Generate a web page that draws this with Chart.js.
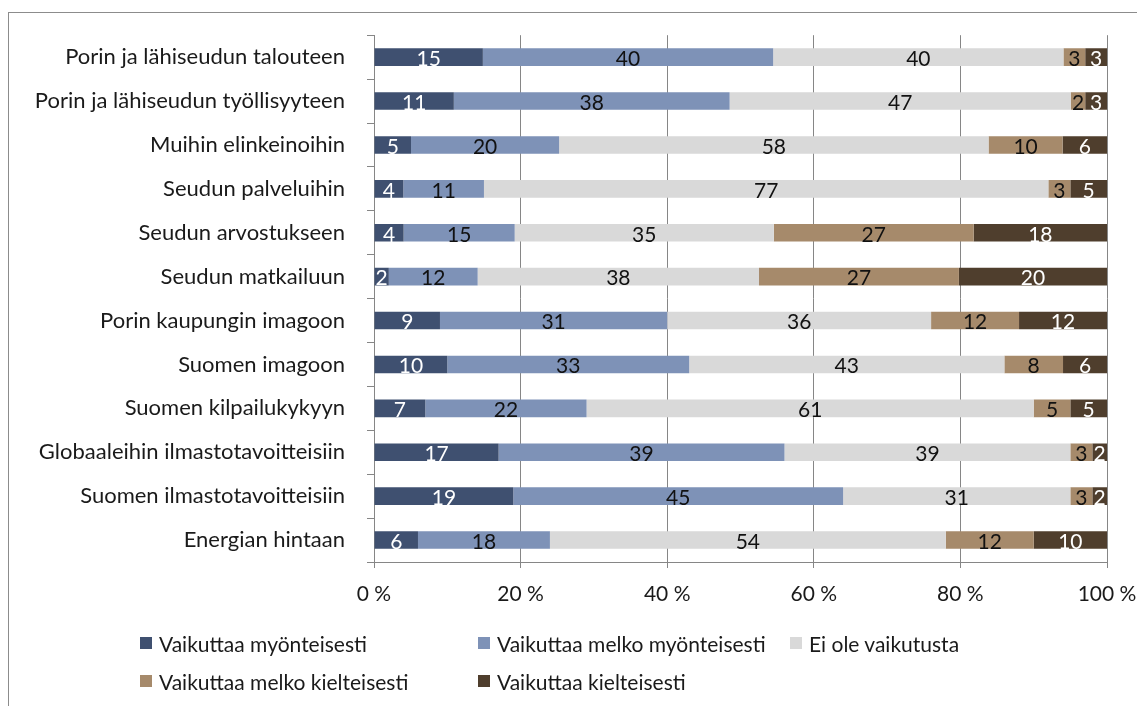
<!DOCTYPE html>
<html lang="fi">
<head>
<meta charset="utf-8">
<script src="https://cdn.jsdelivr.net/npm/chart.js@4.4.1/dist/chart.umd.min.js"></script>
<style>
  html, body { margin: 0; padding: 0; background: #fff; }
  #wrap { position: relative; width: 1137px; height: 706px; overflow: hidden; font-family: Lato, "Open Sans", sans-serif; }
  #frame { position: absolute; left: 8px; top: 12px; width: 1200px; height: 800px; border-top: 1px solid #8c8c8c; border-left: 1px solid #8c8c8c; pointer-events: none; }
  #chart { position: absolute; left: 0; top: 0; }
  #legend { position: absolute; left: 140px; top: 630px; display: grid; grid-template-columns: 338px 312px auto; row-gap: 12px; font-size: 21px; color: #1a1a1a; }
  .item { display: flex; align-items: center; white-space: nowrap; height: 26px; }
  .sw { width: 12px; height: 12px; margin-right: 7px; flex: none; }
</style>
</head>
<body>
<div id="wrap">
  <canvas id="chart" width="1137" height="706"></canvas>
  <div id="frame"></div>
  <div id="legend"></div>
</div>
<script>
// Vastausten jakauma (%) väittämittäin
const categories = [
  'Porin ja lähiseudun talouteen',
  'Porin ja lähiseudun työllisyyteen',
  'Muihin elinkeinoihin',
  'Seudun palveluihin',
  'Seudun arvostukseen',
  'Seudun matkailuun',
  'Porin kaupungin imagoon',
  'Suomen imagoon',
  'Suomen kilpailukykyyn',
  'Globaaleihin ilmastotavoitteisiin',
  'Suomen ilmastotavoitteisiin',
  'Energian hintaan'
];
const seriesNames = [
  'Vaikuttaa myönteisesti',
  'Vaikuttaa melko myönteisesti',
  'Ei ole vaikutusta',
  'Vaikuttaa melko kielteisesti',
  'Vaikuttaa kielteisesti'
];
const myonteisesti      = [15, 11,  5,  4,  4,  2,  9, 10,  7, 17, 19,  6];
const melkoMyonteisesti = [40, 38, 20, 11, 15, 12, 31, 33, 22, 39, 45, 18];
const eiVaikutusta      = [40, 47, 58, 77, 35, 38, 36, 43, 61, 39, 31, 54];
const melkoKielteisesti = [ 3,  2, 10,  3, 27, 27, 12,  8,  5,  3,  3, 12];
const kielteisesti      = [ 3,  3,  6,  5, 18, 20, 12,  6,  5,  2,  2, 10];
const xTicks = [0, 20, 40, 60, 80, 100];

const colors = ['#3f5070', '#7e92b7', '#d9d9d9', '#a68a6b', '#4f3e2d'];
const labelColors = ['#ffffff', '#111111', '#111111', '#111111', '#ffffff'];
const rawSeries = [myonteisesti, melkoMyonteisesti, eiVaikutusta, melkoKielteisesti, kielteisesti];

// Each row is stacked to 100 %
const rowTotals = categories.map((_, i) => rawSeries.reduce((s, arr) => s + arr[i], 0));
const datasets = rawSeries.map((arr, k) => ({
  label: seriesNames[k],
  data: arr.map((v, i) => v / rowTotals[i] * 100),
  raw: arr,
  backgroundColor: colors[k],
  borderWidth: 0,
  barPercentage: 0.4,
  categoryPercentage: 1.0
}));

const FONT = 'Lato, "Open Sans", sans-serif';
const GRID = '#868686';

// Values written in the middle of each bar segment
const segmentLabels = {
  id: 'segmentLabels',
  afterDatasetsDraw(chart) {
    const ctx = chart.ctx;
    ctx.save();
    ctx.font = '21px ' + FONT;
    ctx.textAlign = 'center';
    ctx.textBaseline = 'middle';
    chart.data.datasets.forEach((ds, k) => {
      const meta = chart.getDatasetMeta(k);
      meta.data.forEach((el, i) => {
        const p = el.getProps(['x', 'y', 'base'], true);
        ctx.fillStyle = labelColors[k];
        ctx.fillText(String(ds.raw[i]), (p.x + p.base) / 2, p.y + 2);
      });
    });
    ctx.restore();
  }
};

new Chart(document.getElementById('chart'), {
  type: 'bar',
  data: { labels: categories, datasets },
  options: {
    indexAxis: 'y',
    responsive: false,
    animation: false,
    layout: { padding: { left: 0, right: 30, top: 35, bottom: 94 } },
    plugins: { legend: { display: false }, tooltip: { enabled: false } },
    scales: {
      x: {
        stacked: true,
        min: 0,
        max: 100,
        afterBuildTicks(scale) { scale.ticks = xTicks.map(v => ({ value: v })); },
        afterFit(scale) {
          scale.height = 50;
          // the "100 %" label may overhang into the right padding
          scale.paddingLeft = 0;
          scale.paddingRight = 0;
        },
        ticks: {
          padding: 14,
          color: '#1a1a1a',
          font: { family: FONT, size: 21 },
          callback: v => v + ' %'
        },
        grid: { color: GRID, lineWidth: 1, tickLength: 6, drawTicks: true },
        border: { display: true, color: GRID, width: 1 }
      },
      y: {
        stacked: true,
        afterFit(scale) { scale.width = 374; },
        ticks: {
          padding: 22,
          color: '#1a1a1a',
          font: { family: FONT, size: 22 }
        },
        grid: { display: true, drawOnChartArea: false, drawTicks: true, tickLength: 7, color: GRID, offset: true },
        border: { display: true, color: GRID, width: 1 }
      }
    }
  },
  plugins: [segmentLabels]
});

// Legend laid out in a fixed grid below the plot
const legend = document.getElementById('legend');
seriesNames.forEach((name, k) => {
  const item = document.createElement('div');
  item.className = 'item';
  const sw = document.createElement('span');
  sw.className = 'sw';
  sw.style.background = colors[k];
  const tx = document.createElement('span');
  tx.textContent = name;
  item.appendChild(sw);
  item.appendChild(tx);
  legend.appendChild(item);
});
</script>
</body>
</html>
